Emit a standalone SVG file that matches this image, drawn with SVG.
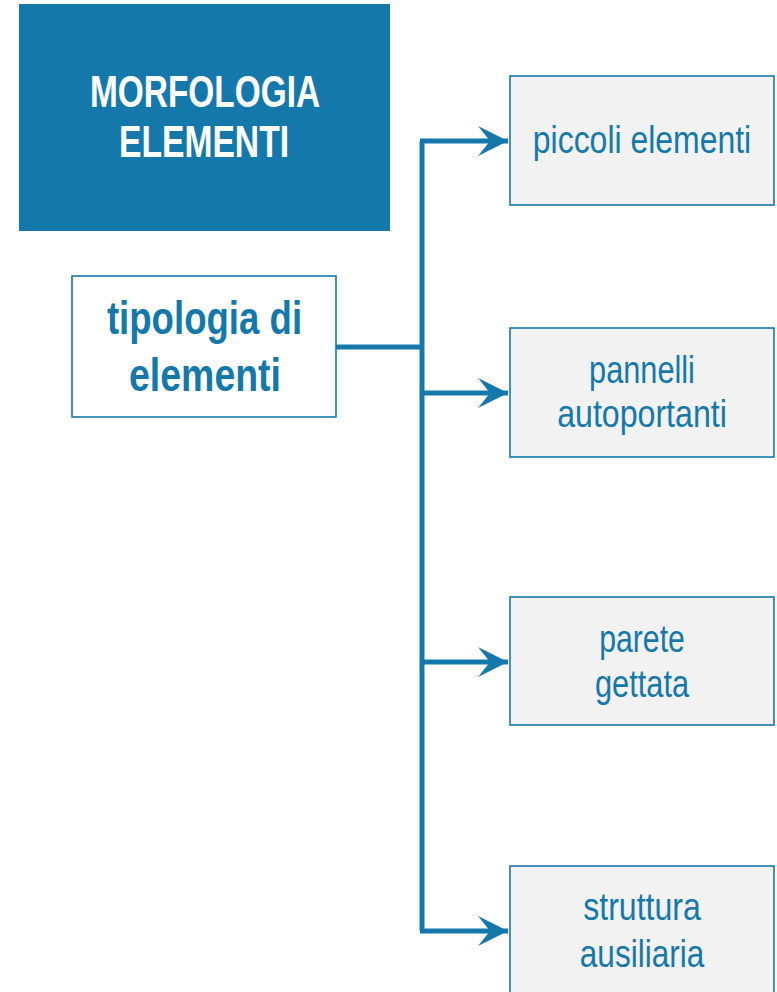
<svg xmlns="http://www.w3.org/2000/svg" width="777" height="992" viewBox="0 0 777 992">
<defs>
<style>
.hdr{fill:#1578AB}
.main{fill:#FFFFFF;stroke:#1578AB;stroke-width:1.6}
.leaf{fill:#F2F2F2;stroke:#1578AB;stroke-width:1.6}
.t{font-family:"Liberation Sans",Arial,sans-serif;text-anchor:middle}
.th{fill:#FFFFFF;font-weight:bold;font-size:44px}
.tm{fill:#1578AB;font-weight:bold;font-size:46px}
.tl{fill:#1578AB;font-size:38px}
.conn{fill:none;stroke:#1578AB;stroke-width:5}
</style>
<marker id="arr" markerUnits="userSpaceOnUse" markerWidth="32" markerHeight="32" refX="30" refY="15" orient="auto" viewBox="0 0 32 32">
<path d="M0,0 L30,15 L0,30 L12,15 Z" fill="#1578AB"/>
</marker>
</defs>
<rect width="777" height="992" fill="#FFFFFF"/>
<g id="header">
<rect class="hdr" x="19" y="4" width="371" height="227"/>
<text class="t th" transform="translate(205,107) scale(0.78,1)" textLength="295" lengthAdjust="spacingAndGlyphs">MORFOLOGIA</text>
<text class="t th" transform="translate(204,157) scale(0.78,1)" textLength="218" lengthAdjust="spacingAndGlyphs">ELEMENTI</text>
</g>
<g id="connectors">
<path class="conn" d="M336,347 H422"/>
<path class="conn" d="M422,141 V931"/>
<path class="conn" d="M420,141 H508" marker-end="url(#arr)"/>
<path class="conn" d="M420,393 H508" marker-end="url(#arr)"/>
<path class="conn" d="M420,662 H508" marker-end="url(#arr)"/>
<path class="conn" d="M420,931 H508" marker-end="url(#arr)"/>
</g>
<g id="tipologia">
<rect class="main" x="72" y="276" width="264" height="141"/>
<text class="t tm" transform="translate(204.5,334) scale(0.8,1)" textLength="244" lengthAdjust="spacingAndGlyphs">tipologia di</text>
<text class="t tm" transform="translate(205,391) scale(0.8,1)" textLength="190" lengthAdjust="spacingAndGlyphs">elementi</text>
</g>
<g id="piccoli">
<rect class="leaf" x="510" y="76" width="264" height="129"/>
<text class="t tl" transform="translate(642,153) scale(0.84,1)" textLength="260" lengthAdjust="spacingAndGlyphs">piccoli elementi</text>
</g>
<g id="pannelli">
<rect class="leaf" x="510" y="328" width="264" height="129"/>
<text class="t tl" transform="translate(642,383) scale(0.84,1)" textLength="126" lengthAdjust="spacingAndGlyphs">pannelli</text>
<text class="t tl" transform="translate(642,427) scale(0.84,1)" textLength="202" lengthAdjust="spacingAndGlyphs">autoportanti</text>
</g>
<g id="parete">
<rect class="leaf" x="510" y="597" width="264" height="128"/>
<text class="t tl" transform="translate(642,652) scale(0.84,1)" textLength="102" lengthAdjust="spacingAndGlyphs">parete</text>
<text class="t tl" transform="translate(642,697) scale(0.84,1)" textLength="112" lengthAdjust="spacingAndGlyphs">gettata</text>
</g>
<g id="struttura">
<rect class="leaf" x="510" y="866" width="264" height="140"/>
<text class="t tl" transform="translate(642,920) scale(0.84,1)" textLength="140" lengthAdjust="spacingAndGlyphs">struttura</text>
<text class="t tl" transform="translate(642,967) scale(0.84,1)" textLength="148" lengthAdjust="spacingAndGlyphs">ausiliaria</text>
</g>
</svg>
